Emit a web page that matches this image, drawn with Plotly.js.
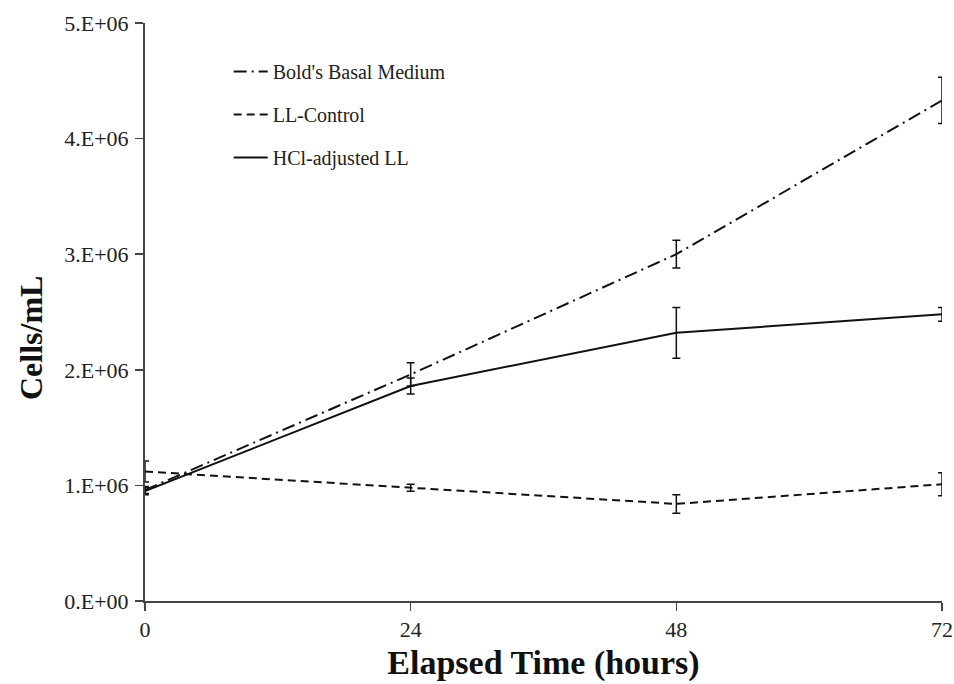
<!DOCTYPE html>
<html>
<head>
<meta charset="utf-8">
<script src="https://cdn.plot.ly/plotly-3.0.1.min.js"></script>
<style>html,body{margin:0;padding:0;background:#fff;}#chart{width:954px;height:684px;}</style>
</head>
<body>
<div id="chart"></div>
<script>
const hours = [0, 24, 48, 72];
const boldsBasal = [0.96e6, 1.96e6, 3.00e6, 4.33e6];
const boldsBasalErr = [0.03e6, 0.10e6, 0.12e6, 0.20e6];
const llControl = [1.12e6, 0.98e6, 0.84e6, 1.01e6];
const llControlErr = [0.09e6, 0.03e6, 0.08e6, 0.10e6];
const hclAdjusted = [0.95e6, 1.86e6, 2.32e6, 2.48e6];
const hclAdjustedErr = [0.03e6, 0.07e6, 0.22e6, 0.06e6];
const yTickVals = [0, 1e6, 2e6, 3e6, 4e6, 5e6];
const yTickText = ["0.E+00", "1.E+06", "2.E+06", "3.E+06", "4.E+06", "5.E+06"];
const xTickVals = [0, 24, 48, 72];
const yTitle = 'Cells/mL';
const xTitle = 'Elapsed Time (hours)';

function errBar(arr) {
  return {type: 'data', array: arr, visible: true, color: '#111', thickness: 1.5, width: 4};
}

const traces = [
  {x: hours, y: boldsBasal, name: "Bold's Basal Medium", mode: 'lines', legendgroup: 'a',
   line: {color: '#111', width: 2, dash: '13px,5px,2px,5px'}, error_y: errBar(boldsBasalErr), cliponaxis: false},
  {x: hours, y: llControl, name: 'LL-Control', mode: 'lines', legendgroup: 'b',
   line: {color: '#111', width: 2, dash: '8px,5px'}, error_y: errBar(llControlErr), cliponaxis: false},
  {x: hours, y: hclAdjusted, name: 'HCl-adjusted LL', mode: 'lines', legendgroup: 'c',
   line: {color: '#111', width: 2}, error_y: errBar(hclAdjustedErr), cliponaxis: false}
];

const layout = {
  width: 954, height: 684,
  margin: {l: 145, r: 12, t: 23, b: 83},
  paper_bgcolor: '#fff', plot_bgcolor: '#fff',
  font: {family: '"Liberation Serif", "Times New Roman", serif', color: '#222', size: 20},
  showlegend: true,
  legend: {x: 0.105, y: 0.95, xanchor: 'left', yanchor: 'top', bgcolor: 'rgba(0,0,0,0)',
           font: {size: 20, color: '#222'}, traceorder: 'grouped', tracegroupgap: 14, itemwidth: 34},
  xaxis: {range: [0, 72], tickvals: xTickVals, ticks: 'outside', ticklen: 8, tickwidth: 1.5, tickcolor: '#444',
          showline: true, linecolor: '#444', linewidth: 2, showgrid: false, zeroline: false,
          tickfont: {size: 22, color: '#222'}, title: {text: '<b>' + xTitle + '</b>', font: {size: 34, color: '#111'}, standoff: 9}},
  yaxis: {range: [0, 5e6], tickvals: yTickVals, ticktext: yTickText, ticks: 'outside', ticklen: 8, tickwidth: 1.5, tickcolor: '#444',
          showline: true, linecolor: '#444', linewidth: 2, showgrid: false, zeroline: false, ticklabelstandoff: 2,
          tickfont: {size: 22, color: '#222'}},
  annotations: [{text: '<b>' + yTitle + '</b>', xref: 'paper', yref: 'paper', x: 0, y: 0.455,
                 xanchor: 'center', yanchor: 'middle', xshift: -114, textangle: -90, showarrow: false,
                 font: {size: 32, color: '#111'}}]
};

Plotly.newPlot('chart', traces, layout, {displayModeBar: false, staticPlot: true});
</script>
</body>
</html>
